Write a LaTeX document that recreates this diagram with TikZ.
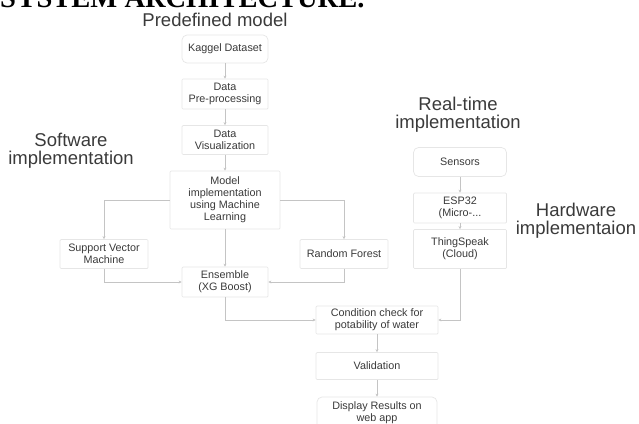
\documentclass[tikz,border=0pt]{standalone}
\usepackage{fontspec}
\setmainfont{Liberation Serif}
\setsansfont{Liberation Sans}
\usepackage{xcolor}
\usepackage{tikz}
\usetikzlibrary{arrows.meta, positioning, calc}

\definecolor{boxline}{HTML}{E6E6E6}
\definecolor{conline}{HTML}{C4C4C4}
\definecolor{txtgray}{HTML}{3A3A3A}

\begin{document}
\begin{tikzpicture}[x=1pt, y=-1pt,
    blk/.style={draw=boxline, line width=0.7pt, rounded corners=1pt, fill=white,
        align=center, inner sep=1pt, text=txtgray,
        font=\sffamily\fontsize{10.8}{12}\selectfont},
    rblk/.style={blk, rounded corners=5pt},
    head/.style={align=center, text=txtgray, inner sep=0pt,
        font=\sffamily\fontsize{18.5}{18}\selectfont},
    arr/.style={draw=conline, line width=0.7pt, -{Stealth[length=3pt, width=3pt]}}]
    \useasboundingbox (0,0) rectangle (639,423);

    % title (cut off at the top)
    \node[anchor=base west, inner sep=0pt, font=\bfseries\fontsize{28.5}{30}\selectfont] (title) at (0,7.5) {SYSTEM ARCHITECTURE.};

    % headings
    \node[head] (predef) at (215,19.5) {Predefined model};
    \node[head] (soft) at (71,151) {Software\\implementation};
    \node[head] (real) at (458,115) {Real-time\\implementation};
    \node[head] (hard) at (576,221) {Hardware\\implementaion};

    % software side
    \node[rblk, minimum width=86pt, minimum height=28pt] (kag) at (225,49) {Kaggel Dataset};
    \node[blk, minimum width=86pt, minimum height=30pt] (pre) at (225,94) {Data\\Pre-processing};
    \node[blk, minimum width=86pt, minimum height=29pt] (vis) at (225,140) {Data\\Visualization};
    \node[blk, minimum width=110pt, minimum height=58pt] (model) at (225,200) {Model\\implementation\\using Machine\\Learning};
    \node[blk, minimum width=88pt, minimum height=29pt] (svm) at (104,254) {Support Vector\\Machine};
    \node[blk, minimum width=88pt, minimum height=29pt] (rf) at (344,254) {Random Forest};
    \node[blk, minimum width=86pt, minimum height=30pt] (ens) at (225,282) {Ensemble\\(XG Boost)};

    % hardware side
    \node[rblk, minimum width=93pt, minimum height=29pt] (sens) at (460,162) {Sensors};
    \node[blk, minimum width=93pt, minimum height=30pt] (esp) at (460,208) {ESP32\\(Micro-...};
    \node[blk, minimum width=93pt, minimum height=39pt] (thing) at (460,249) {ThingSpeak\\(Cloud)};

    % common part
    \node[blk, minimum width=122pt, minimum height=28pt] (cond) at (377,320) {Condition check for\\potability of water};
    \node[blk, minimum width=122pt, minimum height=27pt] (valid) at (377,366) {Validation};
    \node[rblk, minimum width=120pt, minimum height=32pt] (disp) at (377,413) {Display Results on\\web app};

    % connectors
    \draw[arr] (kag) -- (pre);
    \draw[arr] (pre) -- (vis);
    \draw[arr] (vis) -- (model);
    \draw[arr] (model.west) -| (svm.north);
    \draw[arr] (model.east) -| (rf.north);
    \draw[arr] (model) -- (ens);
    \draw[arr] (svm.south) |- (ens.west);
    \draw[arr] (rf.south) |- (ens.east);
    \draw[arr] (ens.south) |- (cond.west);
    \draw[arr] (sens) -- (esp);
    \draw[arr] (esp) -- (thing);
    \draw[arr] (thing.south) |- (cond.east);
    \draw[arr] (cond) -- (valid);
    \draw[arr] (valid) -- (disp);
\end{tikzpicture}
\end{document}
